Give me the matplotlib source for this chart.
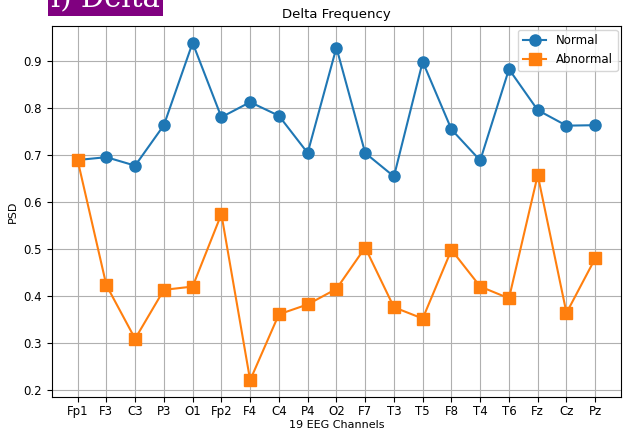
import numpy as np
import matplotlib
matplotlib.use("Agg")
from matplotlib import pyplot as plt

channels = ["Fp1", "F3", "C3", "P3", "O1", "Fp2", "F4", "C4", "P4", "O2",
            "F7", "T3", "T5", "F8", "T4", "T6", "Fz", "Cz", "Pz"]
normal = [0.689, 0.695, 0.677, 0.763, 0.938, 0.780, 0.812, 0.783, 0.704, 0.928,
          0.704, 0.654, 0.898, 0.754, 0.688, 0.882, 0.795, 0.762, 0.763]
abnormal = [0.689, 0.423, 0.309, 0.413, 0.420, 0.574, 0.221, 0.361, 0.382, 0.415,
            0.503, 0.376, 0.352, 0.498, 0.420, 0.395, 0.657, 0.364, 0.480]

fig = plt.figure(figsize=(6.23, 4.33), dpi=100)
ax = fig.add_axes([0.083, 0.083, 0.914, 0.857])

x = np.arange(len(channels))
ax.plot(x, normal, marker="o", markersize=8, label="Normal")
ax.plot(x, abnormal, marker="s", markersize=8, label="Abnormal")

ax.set_xticks(x)
ax.set_xticklabels(channels)
ax.tick_params(labelsize=8.5)
ax.tick_params(axis="x", pad=2.5)
ax.set_xlabel("19 EEG Channels", fontsize=8, labelpad=1.5)
ax.set_ylabel("PSD", fontsize=8)
ax.set_title("Delta Frequency", fontsize=9.5)
ax.grid(True)
ax.legend(fontsize=8.5, loc="upper right", borderaxespad=0.3)

# panel label, clipped at the top like the source crop
fig.text(0.082, 0.97, "l) Delta", fontsize=21, family="DejaVu Serif",
         color="white", va="bottom",
         bbox=dict(facecolor="purple", edgecolor="none", pad=2))

fig.savefig("out.png", dpi=100)
